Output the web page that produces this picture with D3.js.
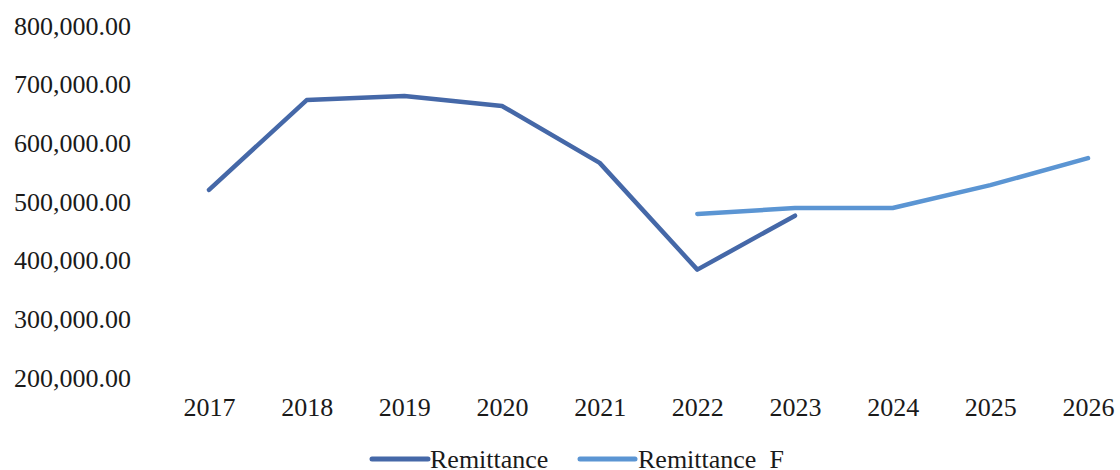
<!DOCTYPE html>
<html>
<head>
<meta charset="utf-8">
<script src="https://cdn.jsdelivr.net/npm/d3@7/dist/d3.min.js"></script>
<style>
  html, body { margin: 0; padding: 0; background: #fff; }
  svg { display: block; }
  text { font-family: "Liberation Serif", "Times New Roman", serif; fill: #1a1a1a; }
</style>
</head>
<body>
<svg id="chart" width="1120" height="470"></svg>
<script>
// Years on the category axis
const years = ["2017", "2018", "2019", "2020", "2021", "2022", "2023", "2024", "2025", "2026"];

// Actual remittance (2017–2023)
const remittanceYears = ["2017", "2018", "2019", "2020", "2021", "2022", "2023"];
const remittance = [519000, 672000, 679000, 662000, 565000, 383000, 475000];

// Forecast remittance (2022–2026)
const forecastYears = ["2022", "2023", "2024", "2025", "2026"];
const forecast = [478000, 488000, 488000, 527000, 573000];

// Value-axis ticks
const yTicks = [200000, 300000, 400000, 500000, 600000, 700000, 800000];

const seriesNames = ["Remittance", "Remittance  F"];
const seriesColors = ["#4568a8", "#5b95d3"];

const svg = d3.select("#chart");

const x = d3.scalePoint().domain(years).range([209, 1088]);
const y = d3.scaleLinear().domain([200000, 800000]).range([377, 25]);

const fmt = d3.format(",.2f");

// Value-axis labels (no axis line or ticks)
const yAxis = d3.axisLeft(y).tickValues(yTicks).tickFormat(fmt).tickSize(0).tickPadding(0);
const gy = svg.append("g").attr("transform", "translate(131,0)").call(yAxis);
gy.select(".domain").remove();
gy.selectAll("text")
  .attr("font-family", "Liberation Serif, Times New Roman, serif")
  .attr("font-size", 26)
  .attr("fill", "#1a1a1a")
  .attr("dy", "0.35em");

// Category-axis labels
const xAxis = d3.axisBottom(x).tickSize(0).tickPadding(0);
const gx = svg.append("g").attr("transform", "translate(0,398)").call(xAxis);
gx.select(".domain").remove();
gx.selectAll("text")
  .attr("font-family", "Liberation Serif, Times New Roman, serif")
  .attr("font-size", 26)
  .attr("fill", "#1a1a1a")
  .attr("dy", "0.71em");

const line = d3.line().x(d => x(d[0])).y(d => y(d[1]));

const series = [
  d3.zip(remittanceYears, remittance),
  d3.zip(forecastYears, forecast)
];

// Forecast first so the actual series sits on top where they meet
[1, 0].forEach(i => {
  svg.append("path")
    .datum(series[i])
    .attr("fill", "none")
    .attr("stroke", seriesColors[i])
    .attr("stroke-width", 4.5)
    .attr("stroke-linejoin", "round")
    .attr("stroke-linecap", "round")
    .attr("d", line);
});

// Legend
const legend = svg.append("g").attr("transform", "translate(0,459)");
const legendItems = [
  { x0: 372, x1: 428, tx: 430 },
  { x0: 580, x1: 635, tx: 638 }
];
legendItems.forEach((it, i) => {
  legend.append("line")
    .attr("x1", it.x0).attr("x2", it.x1)
    .attr("y1", 0).attr("y2", 0)
    .attr("stroke", seriesColors[i])
    .attr("stroke-width", 5)
    .attr("stroke-linecap", "round");
  legend.append("text")
    .attr("x", it.tx).attr("y", 0)
    .attr("dy", "0.35em")
    .attr("font-size", 26)
    .style("white-space", "pre")
    .attr("xml:space", "preserve")
    .text(seriesNames[i]);
});
</script>
</body>
</html>
